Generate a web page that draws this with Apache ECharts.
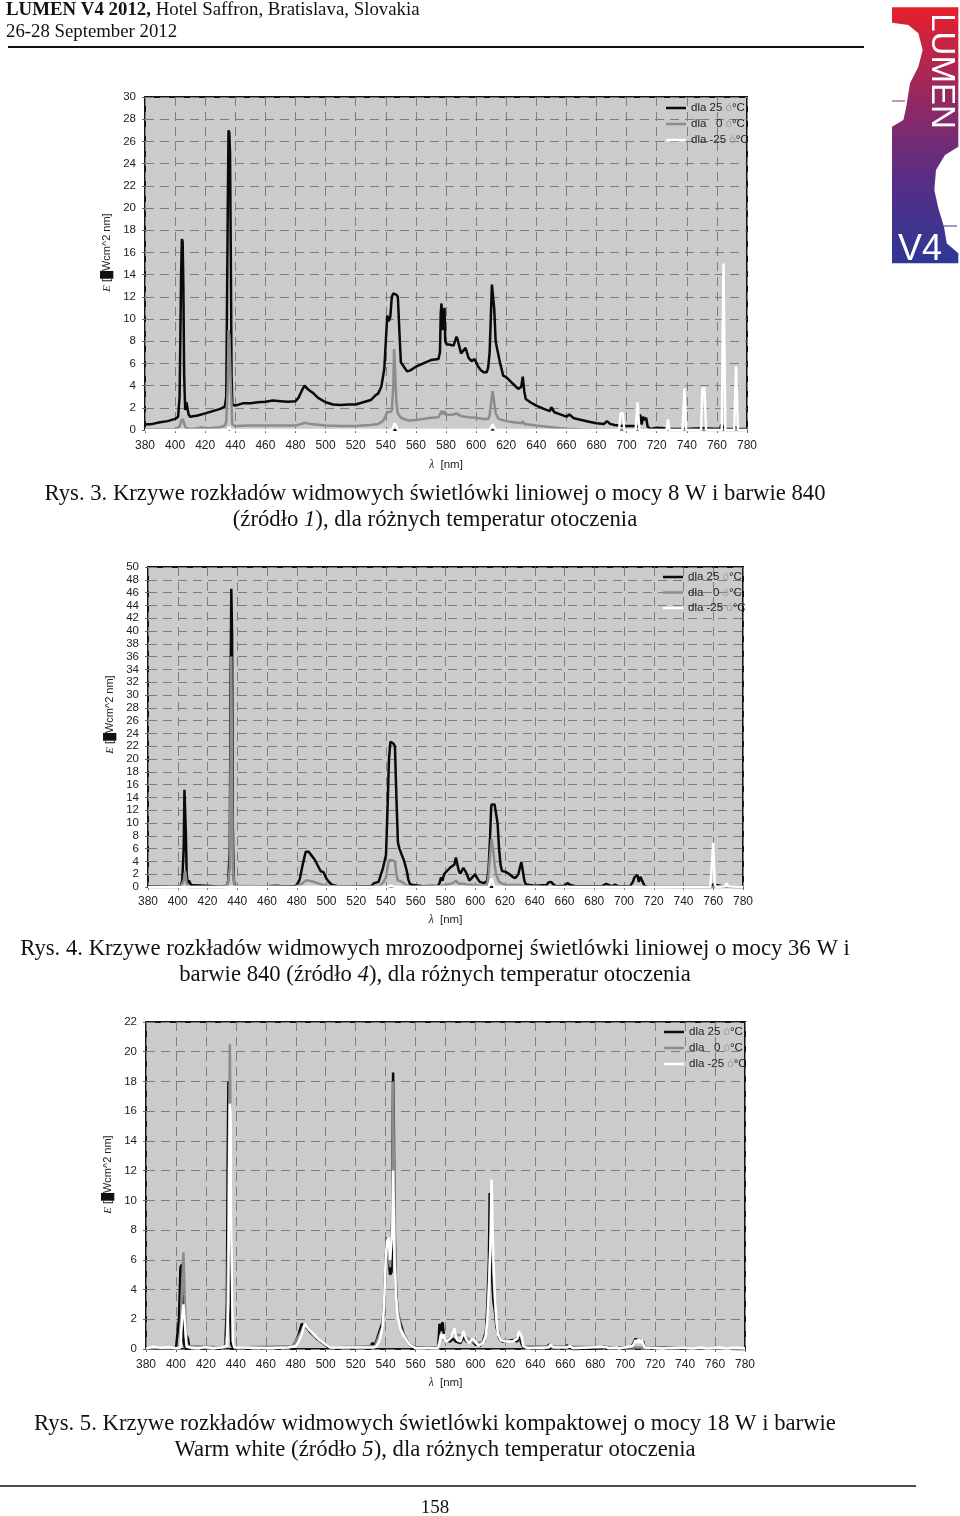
<!DOCTYPE html>
<html><head><meta charset="utf-8">
<style>html,body{margin:0;padding:0;background:#fff}#c{width:960px;height:1516px}</style>
<script src="https://cdn.jsdelivr.net/npm/echarts@6/dist/echarts.min.js"></script>
</head><body><div id="c"></div>
<script>
const names = ['dla 25 ó°C','dla   0 ó°C','dla -25 ó°C'];
const xMin = 380, xMax = 780, xStep = 20;
const yMax = [30, 50, 22];

// Chart 1 – [wavelength nm, E]
const c1Black = [[380,.5],[385,.55],[390,.7],[395,.8],[400,1],[402,1.2],[403,3],[404,14],[404.5,17.2],[405,17],[405.5,13],[406,5],[406.7,1.8],[407.5,2.5],[408,2.6],[409,1.4],[410,1.2],[415,1.3],[420,1.5],[425,1.7],[430,1.9],[433,2.1],[434,3],[435,20],[435.5,27],[436,26.8],[436.5,25],[437,16],[437.5,5],[438,2.3],[440,2.2],[445,2.4],[450,2.4],[455,2.5],[460,2.55],[465,2.65],[470,2.6],[475,2.55],[480,2.6],[482,2.9],[484,3.5],[486,4],[488,3.7],[490,3.5],[492,3.3],[495,2.9],[500,2.5],[505,2.3],[510,2.25],[515,2.3],[520,2.3],[525,2.5],[530,2.7],[533,3.1],[535,3.3],[537,3.9],[539,5.5],[540,8],[541,10.3],[542,9.8],[543,10.2],[544,12],[545,12.3],[547,12.2],[548,12],[549,9],[550,6.1],[552,5.7],[554,5.3],[556,5.35],[560,5.7],[565,6],[570,6.3],[575,6.4],[576,7],[576.5,10.5],[577,11.4],[578,9],[579,11],[579.5,8],[580.5,7.7],[582,7.7],[583,7.6],[585,7.6],[586,7.7],[587,8.4],[588,8],[590,6.9],[591,6.9],[593,7.4],[595,6.5],[597,6.2],[599,6.4],[601,5.8],[603,5.4],[605,5.2],[607,5.2],[608,5.6],[609,7],[610,11],[610.5,13.1],[611.5,13.1],[612,11],[613,8],[614,7.3],[616,6],[618,4.9],[620,4.75],[622,4.5],[625,4.1],[628,3.7],[630,3.9],[631,4.8],[632,3.5],[633,2.8],[636,2.5],[640,2.2],[645,1.9],[649,1.7],[650,2.05],[652,1.6],[655,1.45],[660,1.2],[662,1.4],[665,1.05],[670,.9],[675,.75],[680,.6],[685,.55],[687,.8],[689,.55],[692,.45],[695,.4],[700,.35],[705,.35],[708,.3],[709,1.4],[710,.5],[711,1.2],[712,.9],[713,1.1],[714,.3],[716,.1],[720,.2],[725,.15],[730,.1],[737,.1],[738,.2],[739,.1],[750,.15],[751,.2],[762,.1],[763,.5],[764,.5],[765,.1],[771,.1],[772,.3],[773,.1],[780,.1]];
const c1Grey = [[380,.05],[400,.1],[403,.3],[404,.8],[405,1],[406,.6],[407,.2],[410,.1],[415,.15],[417,.25],[419,.2],[420,.3],[422,.15],[430,.25],[433,.4],[434,.8],[435,4],[435.5,9],[436,8.5],[437,4],[438,.5],[440,.35],[450,.4],[470,.4],[480,.4],[484,.55],[486,.65],[490,.55],[500,.4],[510,.35],[520,.35],[530,.45],[535,.55],[538,.8],[540,1.3],[541,1.65],[543,1.6],[544,1.8],[545,4],[545.5,7.3],[546,6],[547,2.5],[548,1.5],[550,1.1],[555,.85],[560,.9],[570,1.1],[575,1.15],[576,1.3],[577,1.7],[578,1.4],[579,1.7],[580,1.35],[585,1.4],[587,1.5],[590,1.25],[595,1.15],[600,1.1],[605,1],[608,1],[609,1.3],[610,2.5],[611,3.5],[612,2.5],[613,1.5],[615,1],[620,.8],[625,.7],[630,.6],[631,.8],[632,.55],[640,.4],[650,.25],[660,.12],[670,.05],[680,.03],[780,0]];
const c1White = [[380,0],[435,0],[436,.3],[437,0],[544,0],[546,.6],[548,0],[609,0],[611,.5],[613,0],[695,0],[696,1.5],[697.5,1.5],[698.5,0],[706,0],[707.3,2.5],[708.5,0],[726.5,0],[727.5,.95],[728.5,0],[737.2,0],[738.4,3.75],[739.6,0],[749.5,0],[750.3,3.7],[751.7,3.8],[752.8,0],[763.2,0],[764.4,15],[765.6,0],[771.5,0],[772.7,5.75],[774,0],[780,0]];

// Chart 2
const c2Black = [[380,.1],[400,.05],[402,.1],[403,1],[404,6],[404.5,15.2],[405,15],[405.5,8],[406,2],[406.7,.6],[407.5,1],[408,1.1],[409,.3],[410,.1],[430,.05],[433,.2],[434,1],[435,6],[435.5,30],[436,46.6],[436.5,40],[437,10],[437.5,2],[438,.5],[439,.1],[460,.1],[466,.2],[470,.1],[478,.1],[480,.3],[482,1.2],[484,3.5],[486,5.5],[488,5.5],[490,4.9],[492,4.3],[494,3.4],[496,2.5],[498,2.3],[500,1.3],[502,.7],[504,.3],[507,.15],[530,.1],[532,.6],[533,.9],[535,.8],[536,1],[538,3],[540,5],[541,12],[542,20],[543,22.7],[545,22.4],[546,22],[547,14],[548,7],[549,6],[550,5.8],[552,4.2],[554,2.5],[555,1.2],[556,.5],[558,.3],[565,.1],[575,.2],[576,.6],[577,1.5],[578,1],[579,2],[581,2.5],[583,3],[584,2.8],[586,3.5],[587,4.6],[588,3.5],[589,2.5],[590,2.1],[592,3],[593,3.2],[594,2.2],[596,1],[598,1.5],[600,2],[601,1.5],[603,.8],[606,.6],[608,1],[609,3],[610,8],[610.7,12.5],[611,12.9],[613,12.9],[614,12.9],[615,10],[616,6],[617,3.5],[618,2.5],[620,2.4],[621,2.5],[623,2],[625,1.6],[627,1.4],[629,2],[630,3],[631,3.9],[632,2.5],[633,1],[634,.4],[640,.2],[648,.3],[649,.7],[650,1],[651,.8],[653,.3],[655,.1],[660,.2],[662,.6],[664,.3],[668,.1],[685,.1],[686,.4],[688,.5],[689,.2],[692,.1],[694,.4],[696,.1],[704,.1],[706,.8],[707,1.5],[708,1.4],[709,1.9],[710,.8],[711,1.6],[712,1.4],[713,.6],[714,.1],[716,.05],[758,0],[759,.1],[760,.4],[761,.1],[768,.05],[769,.2],[770,.05],[780,0]];
const c2Grey = [[380,0],[402,0],[403,.1],[404,1],[405,2.5],[406,.5],[407,0],[432,0],[433,.1],[434,.8],[435,3],[436,36],[437,3],[438,.2],[439,0],[478,0],[480,.1],[484,.6],[486,1],[488,1],[490,.9],[494,.6],[498,.3],[502,.1],[530,0],[532,.1],[536,.2],[538,.7],[540,1.5],[541,3],[542,4.2],[544,4.2],[546,4],[547,2],[548,1],[550,.9],[552,.6],[554,.2],[556,0],[575,.1],[580,.3],[585,.6],[587,1],[589,.5],[592,.5],[594,.4],[600,.3],[605,.2],[608,.4],[609,2],[610,5],[611,7.5],[612,6],[613,3.5],[614,2],[616,.8],[620,.3],[630,.3],[631,.4],[635,.1],[650,0],[780,0]];
const c2White = [[380,0],[541,0],[543,.2],[545,.1],[547,0],[609,0],[610,.3],[611,1.3],[612,.5],[613,0],[758,0],[759,.3],[760,6.9],[761,.4],[762,0],[768,.1],[769,.6],[770,.1],[771,0],[780,0]];

// Chart 3
const c3Black = [[380,.05],[400,.05],[401,.1],[402,2],[403,5.5],[403.5,5.6],[404,5.7],[404.5,3],[405,.5],[406,.1],[407,.9],[408,.7],[409,.1],[432,.1],[433,.3],[434,3],[434.5,12],[435,18],[435.5,14],[436,3],[437,.3],[438,.1],[470,.1],[478,.2],[480,.5],[482,1],[484,1.7],[485,1.8],[487,1.5],[490,1.1],[494,.7],[498,.4],[502,.1],[530,.1],[531,.4],[533,.3],[534,.6],[536,1.2],[538,1.8],[539,3],[540,6],[541,7.5],[542,6],[543,5],[544,5.2],[544.5,10],[545,18.6],[545.5,15],[546,8],[547,4],[548,2.5],[550,1.7],[553,.7],[556,.3],[560,.1],[570,.05],[575,.1],[575.5,.8],[576,1.7],[577,1.2],[578,1.8],[579,.9],[580,.6],[583,.5],[585,.7],[587,.5],[590,.4],[592,.8],[594,.5],[598,.5],[600,.3],[603,.2],[605,.5],[607,1.2],[608,3],[609,6],[609.5,10.5],[610,8],[611,5],[612,3.2],[613,2.5],[614,1.5],[616,.7],[618,.5],[620,.5],[625,.6],[628,.5],[629,.9],[630,.9],[631,.3],[632,.1],[640,.05],[648,.1],[649,.3],[650,.2],[652,.05],[660,.1],[661,.25],[663,.1],[665,0],[685,.05],[686,.2],[688,.1],[704,.1],[706,.5],[707,.7],[708,.5],[709,.7],[710,.5],[711,.6],[712,.5],[713,.1],[780,0]];
const c3Grey = [[380,.05],[402,.05],[403,.5],[404,4],[405,6.5],[406,3],[407,.5],[408,.2],[433,.1],[434,1],[435,8],[436,20.5],[437,8],[438,.5],[439,.1],[478,.2],[484,1.2],[487,1.6],[492,.9],[500,.3],[503,.1],[533,.2],[538,1.5],[541,7],[543,5.5],[544.5,9],[545,18],[545.6,12],[547,3.5],[550,1.4],[556,.3],[560,.1],[575,.1],[577,.9],[580,.5],[586,1],[592,.9],[600,.4],[606,.5],[608,2],[610,7],[611,8.5],[612,5],[614,1.7],[617,.6],[625,.5],[630,1],[632,.2],[780,0]];
const c3White = [[380,.05],[385,.15],[390,.08],[395,.12],[400,.05],[403,.1],[404,2],[405,3],[406,3],[406.5,1],[407,.2],[408,.3],[409,.1],[415,.05],[420,.12],[425,.05],[430,.1],[434,.2],[435,3],[435.5,12],[436,16.5],[436.5,16],[437,8],[438,.5],[439,.1],[445,.1],[460,.05],[475,.1],[480,.2],[482,.5],[484,1],[486,1.7],[487,1.8],[489,1.3],[491,1.1],[493,.9],[496,.6],[500,.3],[503,.1],[532,.1],[534,.2],[536,.6],[538,1.5],[539,3],[540,6],[541,7.3],[542,7.5],[543,6],[544,6],[544.5,8],[545,12],[545.3,12],[546,6],[547,3.5],[548,2.2],[550,1.3],[553,.7],[556,.3],[560,.05],[575,.05],[576,.4],[577,1],[578,.7],[579,1],[580,.5],[582,.6],[584,.8],[586,1.4],[587,.8],[588,.6],[590,.5],[592,1.2],[593,1.1],[594,.6],[596,.4],[598,.7],[600,.5],[602,.2],[605,.4],[607,.9],[608,2],[609,4],[610,7],[610.7,11.4],[611,11],[611.5,8],[612,6],[613,3.5],[614,2],[615,1],[617,.6],[620,.5],[625,.5],[628,.7],[629,1.2],[630,1.3],[631,.8],[632,.2],[635,.05],[649,.1],[650,.3],[652,.1],[661,.1],[663,.2],[665,.05],[687,.15],[689,.05],[694,.1],[696,.03],[705,.2],[707,.6],[708,.4],[709,.7],[710,.4],[711,.6],[712,.5],[713,.1],[725,.03],[738,.1],[745,.03],[750,.1],[755,.03],[763,.1],[768,.03],[772,.1],[780,.05]];

const seriesData = [[c1Black,c1Grey,c1White],[c2Black,c2Grey,c2White],[c3Black,c3Grey,c3White]];
const colors = ['#0a0a0a','#8c8c8c','#ffffff'];

const grids = [
 {left:145,right:213,top:97,bottom:1086},
 {left:148,right:217,top:567,bottom:629},
 {left:146,right:215,top:1022,bottom:167}
];
const legendPos = [{left:666,top:102},{left:663,top:571},{left:664,top:1026}];
const legendGap = [4,3.5,4];
const axisFont = 'Liberation Sans';
const yNamePad = [22,25,22];
const yNameGap = [28,29,29];
const xNameGap = [29,27,28];
const xLabelMargin = [10,9,10];
const titleSize = 22.7;

const option = {
 animation:false,
 backgroundColor:'#fff',
 grid:grids.map(g=>({...g,show:true,backgroundColor:'#cbcbcb',borderColor:'#151515',borderWidth:2})),
 xAxis:grids.map((g,i)=>({
  type:'value',gridIndex:i,min:xMin,max:xMax,interval:xStep,
  name:'{l|λ}  [nm]',nameLocation:'middle',nameGap:xNameGap[i],
  nameTextStyle:{color:'#222',fontFamily:axisFont,fontSize:11.5,rich:{l:{fontFamily:'Liberation Serif',fontStyle:'italic',fontSize:11.5,color:'#222'}}},
  axisLine:{show:false},axisTick:{show:true,length:3,lineStyle:{color:'#666'}},
  axisLabel:{color:'#222',fontFamily:axisFont,fontSize:12,margin:xLabelMargin[i],hideOverlap:false,showMinLabel:true,showMaxLabel:true},
  splitLine:{show:true,lineStyle:{color:'#7d7d7d',type:[9,6],width:1}}
 })),
 yAxis:grids.map((g,i)=>({
  type:'value',gridIndex:i,min:0,max:yMax[i],interval:2,
  name:'{e|E} {b|[█}Wcm^2 nm]',nameLocation:'middle',nameGap:yNameGap[i],nameRotate:90,
  nameTextStyle:{color:'#222',fontFamily:axisFont,fontSize:11,padding:[0,0,0,yNamePad[i]],
    rich:{e:{fontFamily:'Liberation Serif',fontStyle:'italic',fontSize:11,color:'#222'},b:{fontSize:11,color:'#111'}}},
  axisLine:{show:false},axisTick:{show:true,length:3,lineStyle:{color:'#666'}},
  axisLabel:{color:'#222',fontFamily:axisFont,fontSize:11.5,margin:9},
  splitLine:{show:true,lineStyle:{color:'#7d7d7d',type:[9,6],width:1}}
 })),
 legend:legendPos.map((p,i)=>({
  ...p,orient:'vertical',icon:'rect',itemWidth:20,itemHeight:2.5,itemGap:legendGap[i],padding:0,data:names,selectedMode:false,
  formatter:n=>n.replace('ó','{g|ó}'),
  textStyle:{color:'#222',fontFamily:axisFont,fontSize:11.5,rich:{g:{color:'#a0a0a0',fontFamily:axisFont,fontSize:11.5}}}
 })),
 series:[]
};
seriesData.forEach((triple,g)=>triple.forEach((d,k)=>option.series.push({
  type:'line',name:names[k],xAxisIndex:g,yAxisIndex:g,data:d,showSymbol:false,symbol:'none',smooth:false,clip:false,
  lineStyle:{color:colors[k],width:2.5},itemStyle:{color:colors[k]},z:2+k,silent:true
})));

const serif='Liberation Serif';
function T(x,y,text,size,align){return {type:'text',x,y,silent:true,style:{text,fill:'#111',font:size+'px "'+serif+'"',textAlign:align||'center',textVerticalAlign:'middle'}};}
function TI(x,y,text){return {type:'text',x,y,silent:true,style:{text,fill:'#111',font:titleSize+'px "'+serif+'"',textAlign:'center',textVerticalAlign:'middle',rich:{i:{font:'italic '+titleSize+'px "'+serif+'"',fill:'#111'}}}};}
const logoPts=[[36,22],[235,22],[235,440],[195,465],[168,510],[163,570],[175,625],[192,680],[200,730],[235,760],[235,790],[36,790],[36,380],[70,360],[78,325],[90,250],[115,200],[128,150],[115,100],[85,75],[36,68]].map(p=>[880+p[0]/3,p[1]/3]);
option.graphic=[
 {type:'text',x:6,y:10,silent:true,style:{text:'{b|LUMEN V4 2012,} Hotel Saffron, Bratislava, Slovakia',fill:'#111',font:'18.85px "Liberation Serif"',textVerticalAlign:'middle',rich:{b:{font:'bold 18.85px "Liberation Serif"',fill:'#111'}}}},
 T(6,32,'26-28 September 2012',18.8,'left'),
 {type:'line',silent:true,shape:{x1:8,y1:47,x2:864,y2:47},style:{stroke:'#111',lineWidth:2}},
 {type:'polygon',silent:true,shape:{points:logoPts},style:{fill:{type:'linear',x:0,y:0,x2:0,y2:1,colorStops:[{offset:0,color:'#e8202a'},{offset:.3,color:'#a0285a'},{offset:.65,color:'#5c2d84'},{offset:1,color:'#2f3796'}]}}},
 {type:'line',silent:true,shape:{x1:892,y1:101,x2:905,y2:101},style:{stroke:'#7c2a6e',lineWidth:1}},
 {type:'line',silent:true,shape:{x1:944,y1:226,x2:957,y2:226},style:{stroke:'#4c3088',lineWidth:1}},
 {type:'text',x:941,y:71,rotation:-Math.PI/2,silent:true,style:{text:'LUMEN',fill:'#fff',font:'33px "Liberation Sans"',textAlign:'center',textVerticalAlign:'middle'}},
 {type:'text',x:920,y:250,silent:true,style:{text:'V4',fill:'#fff',font:'36px "Liberation Sans"',textAlign:'center',textVerticalAlign:'middle'}},
 T(435,494,'Rys. 3. Krzywe rozkładów widmowych świetlówki liniowej o mocy 8 W i barwie 840',titleSize),
 TI(435,520,'(źródło {i|1}), dla różnych temperatur otoczenia'),
 T(435,949,'Rys. 4. Krzywe rozkładów widmowych mrozoodpornej świetlówki liniowej o mocy 36 W i',titleSize),
 TI(435,975,'barwie 840 (źródło {i|4}), dla różnych temperatur otoczenia'),
 T(435,1424,'Rys. 5. Krzywe rozkładów widmowych świetlówki kompaktowej o mocy 18 W i barwie',titleSize),
 TI(435,1450,'Warm white (źródło {i|5}), dla różnych temperatur otoczenia'),
 {type:'line',silent:true,shape:{x1:0,y1:1486,x2:916,y2:1486},style:{stroke:'#111',lineWidth:1.5}},
 T(435,1508,'158',19)
];
const chart = echarts.init(document.getElementById('c'),null,{renderer:'canvas'});
chart.setOption(option);
</script></body></html>
